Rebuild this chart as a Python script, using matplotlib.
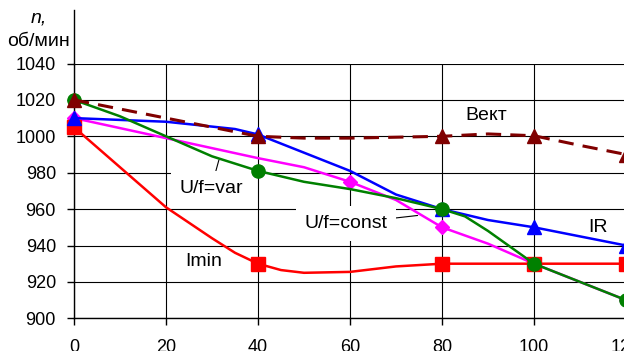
import matplotlib
matplotlib.use("Agg")
import matplotlib.pyplot as plt

plt.rcParams['font.family'] = ['Liberation Sans', 'DejaVu Sans']

# ---- data ----
vekt_x = [0, 20, 40, 50, 60, 70, 80, 90, 100, 110, 120]
vekt_y = [1020, 1010, 1000, 999, 999, 999.5, 1000, 1001.3, 1000.3, 995, 990]
vekt_mx = [0, 40, 80, 100, 120]
vekt_my = [1020, 1000, 1000, 1000, 990]

ir_x = [0, 20, 35, 40, 50, 60, 70, 80, 90, 100, 110, 120]
ir_y = [1010, 1008, 1004, 1001, 991, 981, 968, 960, 954, 950, 945, 940]
ir_mx = [0, 40, 80, 100, 120]
ir_my = [1010, 1001, 960, 950, 940]

const_x = [0, 20, 40, 50, 60, 70, 80, 90, 100, 110, 120]
const_y = [1010, 999, 988, 983, 975, 965, 950, 941, 930, 920, 910]
const_mx = [0, 60, 80, 100, 120]
const_my = [1010, 975, 950, 930, 910]

var_x = [0, 10, 20, 30, 40, 50, 60, 70, 80, 85, 90, 100, 110, 120]
var_y = [1020, 1011, 1000, 989, 981, 975, 971, 966, 960, 956, 948, 930, 920, 910]
var_mx = [0, 40, 80, 100, 120]
var_my = [1020, 981, 960, 930, 910]

imin_x = [0, 10, 20, 30, 35, 40, 45, 50, 60, 70, 80, 90, 100, 110, 120]
imin_y = [1005, 983, 961, 944, 936, 930, 926.5, 925, 925.5, 928.5, 930, 930, 930, 930, 930]
imin_mx = [0, 40, 80, 100, 120]
imin_my = [1005, 930, 930, 930, 930]

x_ticks = [0, 20, 40, 60, 80, 100, 120]
y_ticks = [900, 920, 940, 960, 980, 1000, 1020, 1040]

fig = plt.figure(figsize=(6.24, 3.51), dpi=100)
ax = fig.add_axes([74/624, 1 - 318.3/351, 552/624, 254.8/351])

lw = 1.8
ms = 9.5
# order: magenta, red, blue, green, dark red (top)
ax.plot(const_x, const_y, color='#FF00FF', lw=lw, zorder=3)
ax.plot(const_mx, const_my, ls='none', marker='D', ms=7.5, color='#FF00FF', zorder=3, clip_on=False)
ax.plot(imin_x, imin_y, color='#FF0000', lw=lw, zorder=4)
ax.plot(imin_mx, imin_my, ls='none', marker='s', ms=ms, color='#FF0000', zorder=4, clip_on=False)
ax.plot(ir_x, ir_y, color='#0000FF', lw=lw, zorder=5)
ax.plot(ir_mx, ir_my, ls='none', marker='^', ms=ms + 1, color='#0000FF', zorder=5, clip_on=False)
ax.plot(var_x, var_y, color='#008000', lw=lw, zorder=6)
ax.plot(var_mx, var_my, ls='none', marker='o', ms=ms, color='#008000', zorder=6, clip_on=False)
ax.plot(vekt_x, vekt_y, color='#800000', lw=2.2, ls=(0, (5, 3)), zorder=7)
ax.plot(vekt_mx, vekt_my, ls='none', marker='^', ms=ms + 1, color='#800000', zorder=7, clip_on=False)

ax.set_xlim(0, 120)
ax.set_ylim(900, 1040)
ax.set_xticks(x_ticks)
ax.set_yticks(y_ticks)
ax.grid(True, color='black', lw=0.8, zorder=1)
ax.set_axisbelow(True)
for s in ['top', 'right']:
    ax.spines[s].set_visible(False)
ax.spines['left'].set_linewidth(1.0)
ax.spines['bottom'].set_linewidth(1.0)
ax.tick_params(axis='both', labelsize=13, length=5, width=1, direction='out', colors='black')
ax.tick_params(axis='y', pad=8)
ax.tick_params(axis='x', pad=10)

# extended y axis line above the plot
ax.plot([0, 0], [1, 1.21], transform=ax.transAxes, color='black', lw=1.0, clip_on=False)

# axis label
fig.text(39/624, 1 - 18/351, 'n,', fontsize=14, style='italic', ha='center', va='center')
fig.text(39/624, 1 - 41/351, 'об/мин', fontsize=14, ha='center', va='center')

# series labels
ax.text(89.6, 1011.5, 'Вект', fontsize=14, ha='center', va='center', zorder=10)
ax.text(113.9, 950.1, 'IR', fontsize=14, ha='center', va='center', zorder=10)
ax.text(28.3, 931.0, 'Imin', fontsize=14, ha='center', va='center', zorder=10)

box = dict(boxstyle='square,pad=0.45', fc='white', ec='none')
ax.annotate('U/f=var', xy=(31.5, 987), xytext=(29.8, 971.4), fontsize=14,
            ha='center', va='center', bbox=box, zorder=2,
            arrowprops=dict(arrowstyle='-', color='black', lw=0.8, shrinkA=0, shrinkB=0))
ax.annotate('U/f=const', xy=(74.7, 956.5), xytext=(59.1, 952.0), fontsize=14,
            ha='center', va='center', bbox=box, zorder=2,
            arrowprops=dict(arrowstyle='-', color='black', lw=0.8, shrinkA=0, shrinkB=0))

fig.savefig('out.png', dpi=100)
